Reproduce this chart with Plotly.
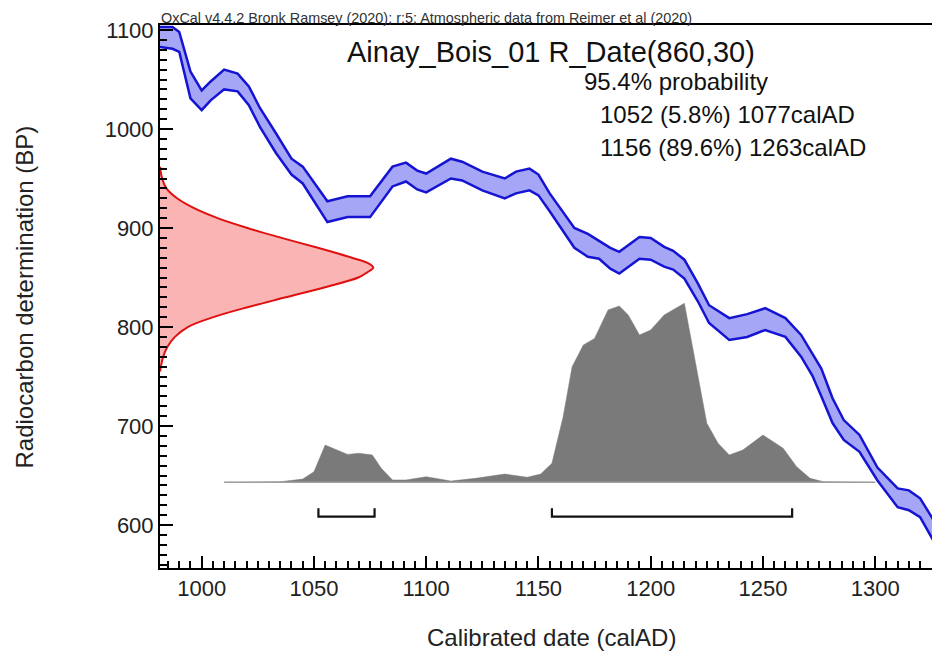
import plotly.graph_objects as go

# ---------------- data ----------------
# calibration curve (IntCal20) band, years calAD, BP
cal_years = [981, 987, 990, 995, 1000, 1004, 1010, 1016, 1021, 1026, 1033, 1040, 1045, 1056,
             1065, 1075, 1085, 1091, 1096, 1100, 1111, 1116, 1125, 1135, 1140, 1146, 1150, 1155,
             1166, 1172, 1177, 1182, 1186, 1195, 1200, 1206, 1210, 1215, 1221, 1226, 1235, 1243,
             1251, 1260, 1267, 1272, 1276, 1281, 1286, 1293, 1301, 1310, 1315, 1320, 1326]
cal_upper = [1103, 1103, 1098, 1058, 1039, 1048, 1060, 1056, 1043, 1021, 996, 970, 962, 927,
             932, 932, 962, 966, 958, 955, 970, 967, 957, 950, 957, 960, 954, 935,
             900, 894, 887, 880, 876, 891, 890, 881, 877, 868, 844, 822, 809, 813,
             819, 809, 792, 773, 758, 728, 706, 691, 658, 637, 635, 627, 605]
cal_lower = [1083, 1081, 1078, 1031, 1019, 1029, 1040, 1038, 1024, 1002, 976, 954, 945, 906,
             911, 911, 942, 947, 939, 936, 950, 948, 938, 930, 935, 938, 933, 917,
             880, 871, 869, 859, 854, 869, 868, 861, 858, 849, 826, 804, 787, 790,
             797, 790, 770, 751, 730, 703, 686, 674, 645, 618, 615, 608, 584]

# radiocarbon determination R_Date(860,30): BP and relative density
c14_bp = [962, 950, 940, 930, 920, 910, 900, 890, 880, 870, 865, 860, 855, 850, 840, 830,
          820, 810, 800, 790, 780, 770, 760, 755]
c14_dens = [0, 0.01, 0.03, 0.08, 0.16, 0.27, 0.41, 0.57, 0.74, 0.90, 0.97, 1.0, 0.97, 0.93,
            0.77, 0.59, 0.41, 0.25, 0.13, 0.07, 0.035, 0.015, 0.004, 0]

# calibrated probability distribution (relative)
post_years = [1010, 1035, 1045, 1050, 1055, 1060, 1065, 1070, 1076, 1080, 1085, 1091, 1100,
              1111, 1122, 1135, 1145, 1151, 1156, 1161, 1165, 1170, 1175, 1181, 1186, 1190,
              1195, 1200, 1206, 1215, 1220, 1225, 1230, 1235, 1241, 1250, 1259, 1265, 1271,
              1277, 1300]
post_prob = [0, 0.003, 0.018, 0.059, 0.208, 0.18, 0.156, 0.162, 0.153, 0.078, 0.013, 0.013,
             0.031, 0.007, 0.022, 0.046, 0.028, 0.046, 0.106, 0.366, 0.646, 0.767, 0.804,
             0.963, 0.985, 0.935, 0.823, 0.851, 0.935, 1.0, 0.665, 0.33, 0.218, 0.153, 0.18,
             0.264, 0.19, 0.087, 0.022, 0.003, 0]

# 95.4% ranges
range_start = [1052, 1156]
range_end = [1077, 1263]
range_pct = ["5.8%", "89.6%"]

x_ticks = [1000, 1050, 1100, 1150, 1200, 1250, 1300]
y_ticks = [600, 700, 800, 900, 1000, 1100]

# ---------------- layout geometry ----------------
W, H = 932, 653
L, R, T, B = 160, 0, 25, 85
PW, PH = W - L - R, H - T - B
FONT = "Liberation Sans, Arial, sans-serif"

def px(xp):
    return (xp - L) / PW

def py(yp):
    return (H - B - yp) / PH

BLUE = "#1414d2"
fig = go.Figure()

# calibration band
fig.add_trace(go.Scatter(x=cal_years, y=cal_upper, mode="lines",
                         line=dict(color=BLUE, width=2.5), hoverinfo="skip", showlegend=False))
fig.add_trace(go.Scatter(x=cal_years, y=cal_lower, mode="lines", fill="tonexty",
                         fillcolor="#a6a6f6", line=dict(color=BLUE, width=2.5),
                         hoverinfo="skip", showlegend=False))

# radiocarbon date distribution (on y axis)
fig.add_trace(go.Scatter(x=c14_dens, y=c14_bp, xaxis="x2", yaxis="y", mode="lines",
                         fill="tozerox", fillcolor="#fab4b4",
                         line=dict(color="#e01010", width=2, shape="spline"),
                         hoverinfo="skip", showlegend=False))

# calibrated distribution
fig.add_trace(go.Scatter(x=post_years, y=post_prob, xaxis="x", yaxis="y2", mode="lines",
                         fill="tozeroy", fillcolor="#7a7a7a",
                         line=dict(color="#7a7a7a", width=0.5),
                         hoverinfo="skip", showlegend=False))
fig.add_trace(go.Scatter(x=[post_years[0], post_years[-1]], y=[0, 0], xaxis="x", yaxis="y2",
                         mode="lines", line=dict(color="#a0a0a0", width=1.5),
                         hoverinfo="skip", showlegend=False))

# range brackets
for s, e in zip(range_start, range_end):
    fig.add_trace(go.Scatter(x=[s, s, e, e], y=[-0.145, -0.192, -0.192, -0.145],
                             xaxis="x", yaxis="y2", mode="lines",
                             line=dict(color="#111111", width=2.2),
                             hoverinfo="skip", showlegend=False))

# y2 scale: baseline at pixel 482.3, peak at 303.3
unit = 179.0
y2_lo = -(H - B - 482.3) / unit
y2_hi = (482.3 - T) / unit
x2_hi = PW / 213.3

axis_common = dict(showline=True, linecolor="black", linewidth=2, ticks="inside",
                   tickcolor="black", tickwidth=2, showgrid=False, zeroline=False,
                   tickfont=dict(family=FONT, size=22, color="#222222"))

fig.update_layout(
    width=W, height=H, margin=dict(l=L, r=R, t=T, b=B),
    paper_bgcolor="white", plot_bgcolor="white",
    xaxis=dict(range=[981.43, 1325.3], tickmode="array", tickvals=x_ticks, ticklen=12,
               mirror=True,
               minor=dict(ticks="inside", ticklen=7, tickwidth=1.5, dtick=5, tick0=1000,
                          tickcolor="black"),
               **axis_common),
    yaxis=dict(range=[556.6, 1105.05], tickmode="array", tickvals=y_ticks, ticklen=13,
               minor=dict(ticks="inside", ticklen=7, tickwidth=1.5, dtick=10, tick0=600,
                          tickcolor="black"),
               **axis_common),
    xaxis2=dict(overlaying="x", range=[0, x2_hi], visible=False),
    yaxis2=dict(overlaying="y", range=[y2_lo, y2_hi], visible=False),
)

ann = []
ann.append(dict(text="OxCal v4.4.2 Bronk Ramsey (2020); r:5; Atmospheric data from Reimer et al (2020)",
                x=px(160), y=py(17.5), xanchor="left", yanchor="middle",
                font=dict(family=FONT, size=14.4, color="#333333")))
ann.append(dict(text="Ainay_Bois_01 R_Date(860,30)", x=px(550.5), y=py(52),
                xanchor="center", yanchor="middle", font=dict(family=FONT, size=29, color="#111111")))
ann.append(dict(text="95.4% probability", x=px(583), y=py(82), xanchor="left", yanchor="middle",
                font=dict(family=FONT, size=24, color="#111111")))
for i, (s, e, p) in enumerate(zip(range_start, range_end, range_pct)):
    ann.append(dict(text=f"{s} ({p}) {e}calAD", x=px(599), y=py(114 + 33 * i),
                    xanchor="left", yanchor="middle",
                    font=dict(family=FONT, size=24, color="#111111")))
ann.append(dict(text="Radiocarbon determination (BP)", x=px(24), y=py(297.5), textangle=-90,
                xanchor="center", yanchor="middle", font=dict(family=FONT, size=24, color="#222222")))
ann.append(dict(text="Calibrated date (calAD)", x=px(551), y=py(637),
                xanchor="center", yanchor="middle", font=dict(family=FONT, size=24, color="#222222")))
for a in ann:
    a.update(xref="paper", yref="paper", showarrow=False, borderpad=0)
fig.update_layout(annotations=ann)

fig.write_html("out.html", config={"displayModeBar": False},
               post_script="document.body.style.margin='0px';document.body.style.overflow='hidden';")
